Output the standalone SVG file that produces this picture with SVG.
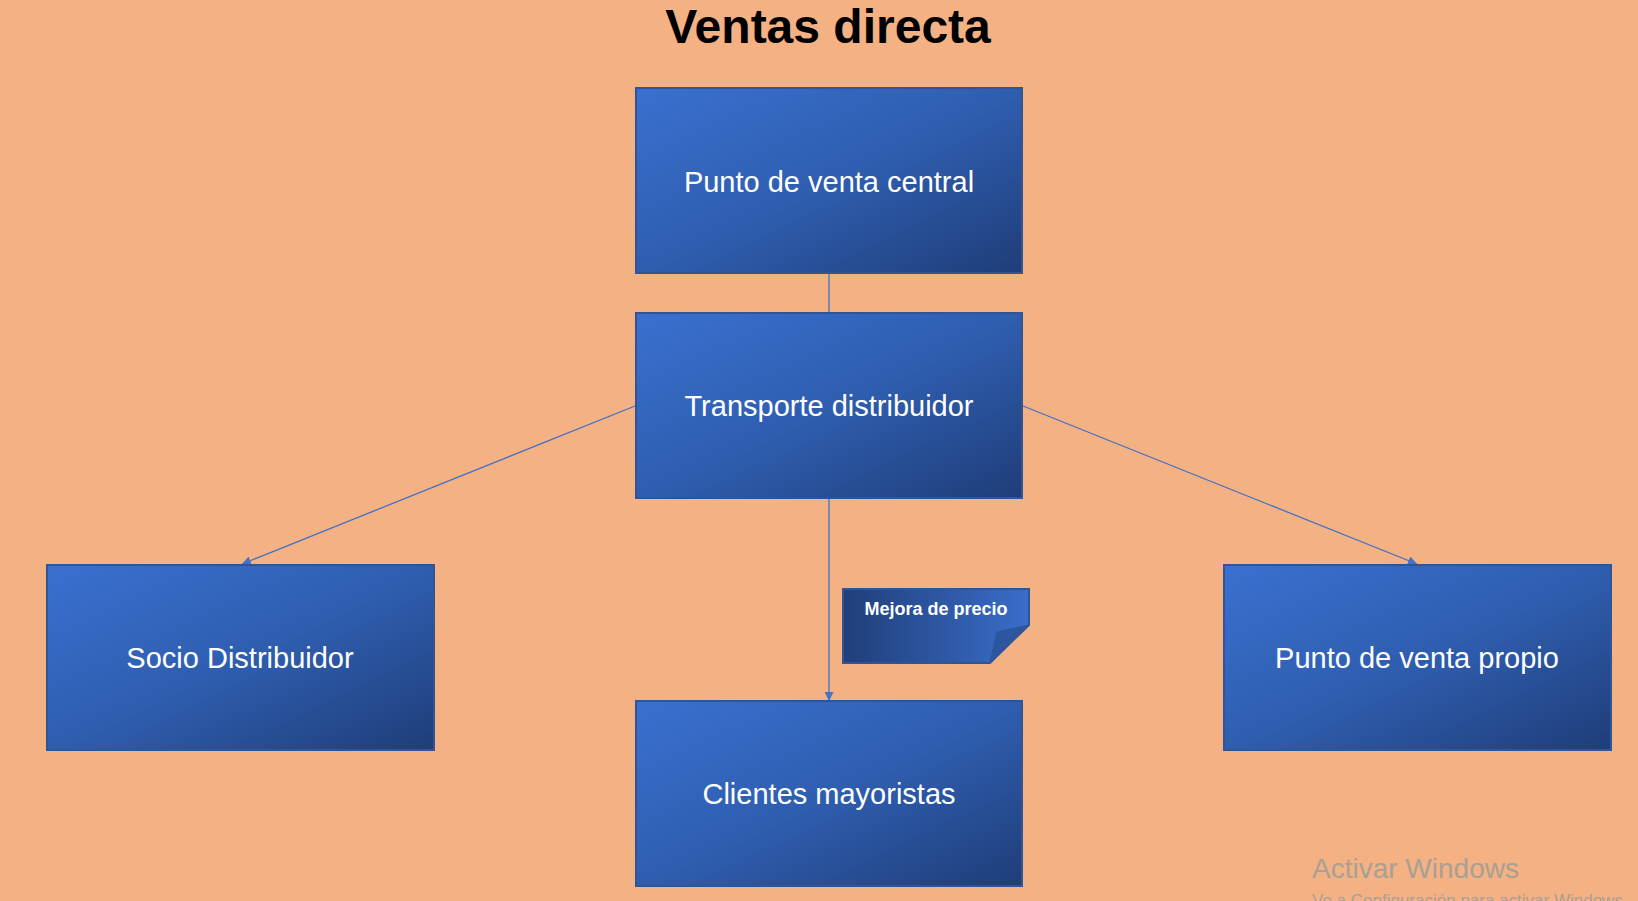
<svg xmlns="http://www.w3.org/2000/svg" width="1638" height="901" viewBox="0 0 1638 901">
<style>
.box{stroke:#2f5597;stroke-width:2;fill:url(#boxg)}
.lbl{font-family:"Liberation Sans",Arial,sans-serif;font-size:29px;fill:#ffffff;text-anchor:middle}
.conn{stroke:#4472c4;stroke-width:1.3;fill:none}
.title{font-family:"Liberation Sans",Arial,sans-serif;font-weight:bold;font-size:48px;fill:#000000;text-anchor:middle}
.wm{font-family:"Liberation Sans",Arial,sans-serif;fill:#a8a095}
</style>
<defs>
<linearGradient id="boxg" x1="0" y1="0" x2="1" y2="1">
<stop offset="0" stop-color="#3a70d0"/>
<stop offset="0.5" stop-color="#2f5eb0"/>
<stop offset="1" stop-color="#1f3d78"/>
</linearGradient>
<linearGradient id="noteg" x1="0" y1="0" x2="1" y2="0">
<stop offset="0" stop-color="#203f7a"/>
<stop offset="1" stop-color="#3a6dc9"/>
</linearGradient>
<marker id="arr" viewBox="0 0 10 10" refX="10" refY="5" markerWidth="9" markerHeight="9" markerUnits="userSpaceOnUse" orient="auto">
<path d="M0,0 L10,5 L0,10 z" fill="#4472c4"/>
</marker>
</defs>
<rect x="0" y="0" width="1638" height="901" fill="#f4b183"/>
<text class="title" x="828" y="43">Ventas directa</text>
<g id="connectors">
<line class="conn" x1="829" y1="273" x2="829" y2="312"/>
<line class="conn" x1="635" y1="406" x2="242" y2="564" marker-end="url(#arr)"/>
<line class="conn" x1="1023" y1="406" x2="1417" y2="564" marker-end="url(#arr)"/>
<line class="conn" x1="829" y1="498" x2="829" y2="701" marker-end="url(#arr)"/>
</g>
<g id="punto-central">
<rect class="box" x="636" y="88" width="386" height="185"/>
<text class="lbl" x="829" y="192">Punto de venta central</text>
</g>
<g id="transporte">
<rect class="box" x="636" y="313" width="386" height="185"/>
<text class="lbl" x="829" y="416">Transporte distribuidor</text>
</g>
<g id="socio">
<rect class="box" x="47" y="565" width="387" height="185"/>
<text class="lbl" x="240" y="668">Socio Distribuidor</text>
</g>
<g id="punto-propio">
<rect class="box" x="1224" y="565" width="387" height="185"/>
<text class="lbl" x="1417" y="668">Punto de venta propio</text>
</g>
<g id="clientes">
<rect class="box" x="636" y="701" width="386" height="185"/>
<text class="lbl" x="829" y="804">Clientes mayoristas</text>
</g>
<g id="nota">
<path d="M843,589 L1029,589 L1029,625 L990,663 L843,663 Z" fill="url(#noteg)" stroke="#2f5597" stroke-width="2"/>
<path d="M990,663 L997,632 L1029,625 Z" fill="#2c56a0" stroke="#2f5597" stroke-width="1"/>
<text x="936" y="615" text-anchor="middle" font-family="'Liberation Sans',Arial,sans-serif" font-weight="bold" font-size="18" fill="#ffffff">Mejora de precio</text>
</g>
<text class="wm" x="1312" y="878" font-size="28">Activar Windows</text>
<text class="wm" x="1312" y="906" font-size="17">Ve a Configuración para activar Windows.</text>
</svg>
